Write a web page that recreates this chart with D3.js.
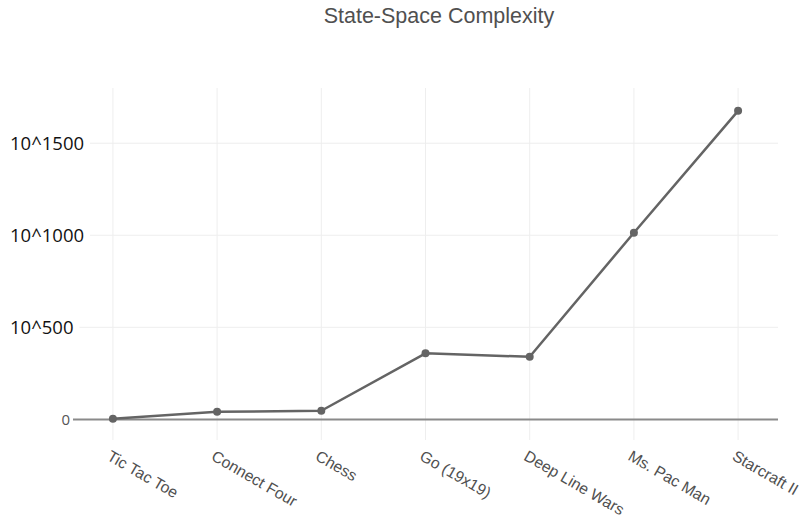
<!DOCTYPE html>
<html>
<head>
<meta charset="utf-8">
<script src="https://cdn.jsdelivr.net/npm/d3@7"></script>
<style>
  html, body { margin: 0; padding: 0; background: #fff; }
  svg { display: block; }
</style>
</head>
<body>
<svg id="chart" width="800" height="518"></svg>
<script>
// ---- data ----
const categories = ["Tic Tac Toe", "Connect Four", "Chess", "Go (19x19)", "Deep Line Wars", "Ms. Pac Man", "Starcraft II"];
const exponents = [3, 41, 47, 359, 340, 1014, 1676];   // state-space size = 10^value
const yTickValues = [500, 1000, 1500];
const yTickLabels = ["10^500", "10^1000", "10^1500"];
const title = "State-Space Complexity";

// ---- layout ----
const W = 800, H = 518;
const plot = { left: 73, right: 778, top: 88, bottom: 440 };

const svg = d3.select("#chart");

const x = d3.scalePoint()
  .domain(categories)
  .range([plot.left, plot.right])
  .padding(0.383);

const y = d3.scaleLinear()
  .domain([-112, 1800])
  .range([plot.bottom, plot.top]);

// vertical grid
svg.append("g").selectAll("line")
  .data(categories).join("line")
  .attr("x1", d => x(d)).attr("x2", d => x(d))
  .attr("y1", plot.top).attr("y2", plot.bottom)
  .attr("stroke", "#eeeeee").attr("stroke-width", 1);

// horizontal grid
svg.append("g").selectAll("line")
  .data(yTickValues).join("line")
  .attr("x1", plot.left).attr("x2", plot.right)
  .attr("y1", d => y(d)).attr("y2", d => y(d))
  .attr("stroke", "#eeeeee").attr("stroke-width", 1);

// zero line
svg.append("line")
  .attr("x1", plot.left).attr("x2", plot.right)
  .attr("y1", y(0)).attr("y2", y(0))
  .attr("stroke", "#8a8a8a").attr("stroke-width", 2);

// "0" tick label
svg.append("text")
  .attr("x", plot.left - 3).attr("y", y(0))
  .attr("dy", "0.36em")
  .attr("text-anchor", "end")
  .attr("font-family", "'Open Sans', sans-serif")
  .attr("font-size", 15)
  .attr("fill", "#555")
  .text("0");

// custom y labels with white background
const yl = svg.append("g").selectAll("g")
  .data(yTickValues).join("g");
const ylText = yl.append("text")
  .attr("x", 10).attr("y", d => y(d) + 6.5)
  .attr("font-family", "'Open Sans', sans-serif")
  .attr("font-size", 18.5)
  .attr("fill", "#111")
  .text((d, i) => yTickLabels[i]);
ylText.each(function () {
  const b = this.getBBox();
  d3.select(this.parentNode).insert("rect", "text")
    .attr("x", b.x - 2).attr("y", b.y)
    .attr("width", b.width + 8).attr("height", b.height)
    .attr("fill", "#fff");
});

// line
const line = d3.line()
  .x((d, i) => x(categories[i]))
  .y(d => y(d));

svg.append("path")
  .datum(exponents)
  .attr("d", line)
  .attr("fill", "none")
  .attr("stroke", "#646464")
  .attr("stroke-width", 2.5)
  .attr("stroke-linejoin", "round");

svg.append("g").selectAll("circle")
  .data(exponents).join("circle")
  .attr("cx", (d, i) => x(categories[i]))
  .attr("cy", d => y(d))
  .attr("r", 4)
  .attr("fill", "#646464");

// x tick labels rotated
svg.append("g").selectAll("text")
  .data(categories).join("text")
  .attr("transform", d => `translate(${x(d) - 1},${plot.bottom + 9}) rotate(30)`)
  .attr("dy", "0.75em")
  .attr("text-anchor", "start")
  .attr("font-family", "'Liberation Sans', Arial, sans-serif")
  .attr("font-size", 15.8)
  .attr("fill", "#505050")
  .text(d => d);

// title
svg.append("text")
  .attr("x", 439).attr("y", 23)
  .attr("text-anchor", "middle")
  .attr("font-family", "'Liberation Sans', Arial, sans-serif")
  .attr("font-size", 21.5)
  .attr("fill", "#505050")
  .text(title);
</script>
</body>
</html>
